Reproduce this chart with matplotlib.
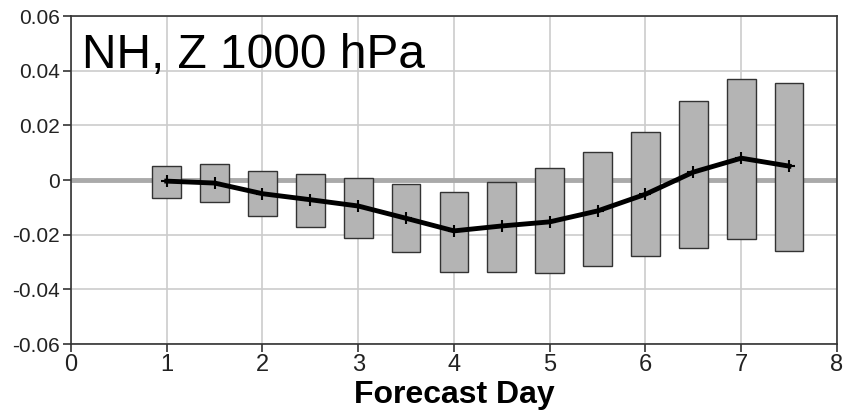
import matplotlib
matplotlib.use("Agg")
import matplotlib.pyplot as plt
import numpy as np

plt.rcParams['font.family'] = ['Liberation Sans', 'DejaVu Sans']

days = [1, 1.5, 2, 2.5, 3, 3.5, 4, 4.5, 5, 5.5, 6, 6.5, 7, 7.5]
box_top = [0.0051, 0.0058, 0.0033, 0.0021, 0.0006, -0.0015, -0.0043, -0.0006,
           0.0043, 0.0101, 0.0177, 0.0289, 0.0368, 0.0356]
box_bottom = [-0.0066, -0.0081, -0.0131, -0.0172, -0.0211, -0.0264, -0.0336, -0.0336,
              -0.0340, -0.0314, -0.0278, -0.0248, -0.0216, -0.0261]
mean_vals = [-0.0004, -0.0011, -0.0050, -0.0072, -0.0095, -0.0140, -0.0186, -0.0168,
             -0.0153, -0.0113, -0.0052, 0.0029, 0.0080, 0.0051]
xticks = [0, 1, 2, 3, 4, 5, 6, 7, 8]
yticks = [-0.06, -0.04, -0.02, 0, 0.02, 0.04, 0.06]
ytick_labels = ['-0.06', '-0.04', '-0.02', '0', '0.02', '0.04', '0.06']
title = "NH, Z 1000 hPa"
xlabel = "Forecast Day"

fig = plt.figure(figsize=(8.45, 4.12), dpi=100)
ax = fig.add_axes([0.084, 0.165, 0.9065, 0.796])

ax.set_xlim(0, 8)
ax.set_ylim(-0.06, 0.06)
ax.set_xticks(xticks)
ax.set_yticks(yticks)
ax.set_yticklabels(ytick_labels)
ax.grid(True, color='#cccccc', linewidth=1.2, zorder=0)
ax.set_axisbelow(True)

ax.axhline(0, color='#aaaaaa', linewidth=3.5, zorder=1)

heights = np.array(box_top) - np.array(box_bottom)
ax.bar(days, heights, bottom=box_bottom, width=0.3, facecolor='#b4b4b4',
       edgecolor='#333333', linewidth=1.0, zorder=2)

ax.plot(days, mean_vals, color='black', linewidth=3.5, marker='+',
        markersize=8, markeredgewidth=1.5, zorder=3)

ax.text(0.12, 0.0455, title, fontsize=34.5, color='black', ha='left', va='center', zorder=4)

for side in ['left', 'bottom', 'top', 'right']:
    ax.spines[side].set_color('#333333')
    ax.spines[side].set_linewidth(1.2)

ax.tick_params(axis='both', direction='out', length=6, width=1.2, color='#333333',
               labelcolor='#222222')
ax.tick_params(axis='y', labelsize=15, pad=2)
ax.tick_params(axis='x', labelsize=17, pad=1)
ax.set_xlabel(xlabel, fontsize=23, fontweight='bold', labelpad=3)

fig.savefig("out.png", dpi=100)
